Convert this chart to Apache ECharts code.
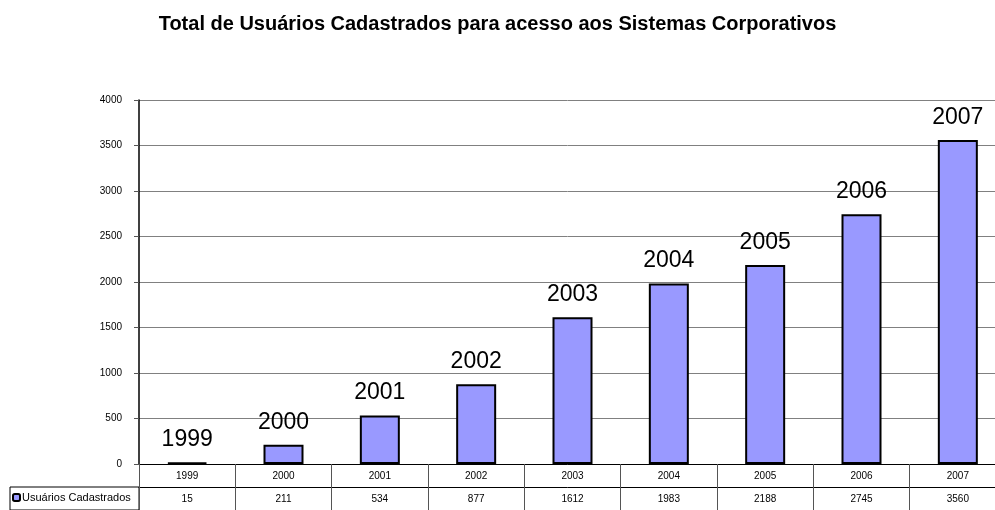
<!DOCTYPE html>
<html>
<head>
<meta charset="utf-8">
<script src="https://cdn.jsdelivr.net/npm/echarts@6/dist/echarts.min.js"></script>
<style>
    html, body { margin: 0; padding: 0; background: #fff; }
    #chart { width: 995px; height: 510px; }
</style>
</head>
<body>
<div id="chart"></div>
<script>
// dados do grafico
var anos = ['1999', '2000', '2001', '2002', '2003', '2004', '2005', '2006', '2007'];
var usuarios = [15, 211, 534, 877, 1612, 1983, 2188, 2745, 3560];
var nomeSerie = 'Usuários Cadastrados';
var titulo = 'Total de Usuários Cadastrados para acesso aos Sistemas Corporativos';

var fonte = 'Liberation Sans, Arial, sans-serif';

var myChart = echarts.init(document.getElementById('chart'));
var option = {
    animation: false,
    textStyle: { fontFamily: fonte },
    title: {
        text: titulo,
        left: 'center',
        top: 9,
        textStyle: { fontSize: 20, fontWeight: 'bold', color: '#000', fontFamily: fonte }
    },
    legend: {
        data: [nomeSerie],
        left: 12,
        top: 492,
        padding: 0,
        itemWidth: 7,
        itemHeight: 7,
        itemGap: 0,
        textStyle: { fontSize: 11, color: '#000', padding: [0, 0, 0, -3] }
    },
    graphic: [{
        type: 'rect',
        shape: { x: 10, y: 487, width: 129, height: 23 },
        style: { fill: 'none', stroke: '#000', lineWidth: 1 },
        silent: true
    }],
    grid: { left: 139, top: 100, right: -11, bottom: 46, outerBoundsMode: 'none' },
    xAxis: [{
        type: 'category',
        data: anos,
        position: 'bottom',
        axisLine: { lineStyle: { color: '#000', width: 1 } },
        axisTick: { show: true, length: 46, lineStyle: { color: '#555' } },
        axisLabel: { fontSize: 10, color: '#000', margin: 7 }
    }, {
        type: 'category',
        data: anos,
        position: 'bottom',
        offset: 23,
        axisLine: { lineStyle: { color: '#000', width: 1 } },
        axisTick: { show: false },
        axisLabel: {
            fontSize: 10, color: '#000', margin: 7,
            formatter: function (v, i) { return String(usuarios[i]); }
        }
    }],
    yAxis: {
        type: 'value',
        min: 0,
        max: 4000,
        interval: 500,
        axisLine: { show: true, lineStyle: { color: '#000', width: 1.5 } },
        axisTick: { show: true, length: 5, lineStyle: { color: '#555' } },
        axisLabel: {
            fontSize: 10, color: '#000', margin: 17,
            formatter: function (v) { return String(v); }
        },
        splitLine: { lineStyle: { color: '#808080', width: 1 } }
    },
    series: [{
        name: nomeSerie,
        type: 'bar',
        data: usuarios,
        barWidth: 40,
        itemStyle: { color: '#9999FF', borderColor: '#000', borderWidth: 2 },
        label: {
            show: true,
            position: 'top',
            distance: 11,
            formatter: '{b}',
            fontSize: 23,
            color: '#000',
            fontFamily: fonte
        }
    }]
};
myChart.setOption(option);
</script>
</body>
</html>
